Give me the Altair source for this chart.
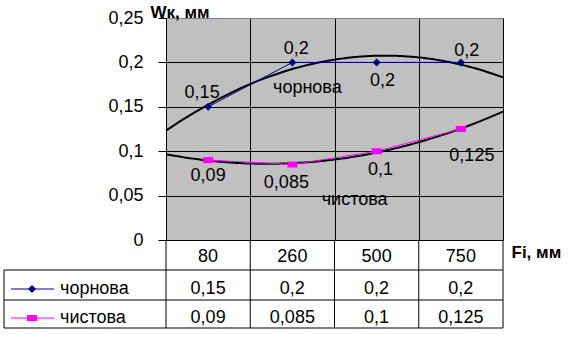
import altair as alt
import pandas as pd

categories = ["80", "260", "500", "750"]
chornova = [0.15, 0.2, 0.2, 0.2]
chystova = [0.09, 0.085, 0.1, 0.125]
series_names = ["чорнова", "чистова"]
series_colors = ["#000080", "#FF00FF"]
y_title = "Wк, мм"
x_title = "Fi, мм"
y_ticks = [0, 0.05, 0.1, 0.15, 0.2, 0.25]
cat_bounds = [-0.5, 0.5, 1.5, 2.5, 3.5]

# manual data-label placement (pixel offsets from each point, Excel style)
label_dx = [[-6, 4, 6, 6], [0, -6, 4, 11]]
label_dy = [[-9, -8, 24, -6], [21, 23, 24, 32]]

FONT = "Arial, 'Liberation Sans', sans-serif"
FS = 18
W, H = 337, 222

def fmt(v):
    return ("%g" % v).replace(".", ",")

rows = []
for s, vals in enumerate([chornova, chystova]):
    for i, v in enumerate(vals):
        rows.append(dict(series=series_names[s], idx=i, cat=categories[i], v=v, label=fmt(v)))
df = pd.DataFrame(rows)

xscale = alt.Scale(domain=[-0.5, 3.5], nice=False, zero=False)
yscale = alt.Scale(domain=[0, 0.25], nice=False, zero=True)

X = alt.X("idx:Q", scale=xscale, axis=alt.Axis(
    values=cat_bounds, grid=True, gridColor="black", gridOpacity=1, labels=False,
    ticks=False, domain=False, title=x_title, titleX=345, titleY=17,
    titleAlign="left", titleBaseline="alphabetic", titleFont=FONT,
    titleFontSize=17, titleFontWeight="bold", titleColor="black"))
Y = alt.Y("v:Q", scale=yscale, axis=alt.Axis(
    values=y_ticks, grid=True,
    gridColor={"condition": {"test": "datum.value >= 0.25", "value": "#808080"}, "value": "black"},
    gridOpacity=1,
    labelExpr="replace(format(datum.value, '~g'), '.', ',')",
    labelFont=FONT, labelFontSize=FS, labelColor="black", labelPadding=15,
    tickSize=8, tickColor="black", domainColor="black",
    title=y_title, titleAngle=0, titleX=-16, titleY=-1, titleAlign="left",
    titleBaseline="alphabetic", titleFont=FONT, titleFontSize=17,
    titleFontWeight="bold", titleColor="black"))

color = alt.Color("series:N", scale=alt.Scale(domain=series_names, range=series_colors), legend=None)
square = "M-1,-0.6L1,-0.6L1,0.6L-1,0.6Z"
shape = alt.Shape("series:N", scale=alt.Scale(domain=series_names, range=["diamond", square]), legend=None)
size = alt.Size("series:N", scale=alt.Scale(domain=series_names, range=[64, 100]), legend=None)

base = alt.Chart(df)

trend = base.transform_regression(
    "idx", "v", method="poly", order=2, extent=[-0.5, 3.5], groupby=["series"]
).mark_line(color="black", strokeWidth=2).encode(x=X, y=Y, detail="series:N")

lines = base.mark_line(strokeWidth=1).encode(x=X, y=Y, color=color)
points = base.mark_point(filled=True, opacity=1).encode(x=X, y=Y, color=color, shape=shape, size=size)

layers = [trend, lines, points]

# data labels, each placed like Excel's labels
for s, name in enumerate(series_names):
    for i in range(len(categories)):
        sub = df[(df.series == name) & (df.idx == i)]
        layers.append(alt.Chart(sub).mark_text(
            font=FONT, fontSize=FS, baseline="alphabetic", align="center", color="black",
            dx=label_dx[s][i], dy=label_dy[s][i]).encode(x=X, y=Y, text="label:N"))

# series name labels anchored to a point of each series
name_anchor = [1, 2]
name_dx = [15, -22]
name_dy = [31, 54]
for s, name in enumerate(series_names):
    sub = df[(df.series == name) & (df.idx == name_anchor[s])]
    layers.append(alt.Chart(sub).mark_text(
        font=FONT, fontSize=FS, baseline="alphabetic", align="center", color="black",
        dx=name_dx[s], dy=name_dy[s]).encode(x=X, y=Y, text="series:N"))

# ---- data table under the plot ----
cat_df = pd.DataFrame({"idx": list(range(len(categories))), "cat": categories})
layers.append(alt.Chart(cat_df).mark_text(font=FONT, fontSize=FS, baseline="alphabetic", color="black").encode(
    x=X, y=alt.value(244), text="cat:N"))

row_base = [276, 305]
for s, name in enumerate(series_names):
    sub = df[df.series == name]
    layers.append(alt.Chart(sub).mark_text(font=FONT, fontSize=FS, baseline="alphabetic", color="black").encode(
        x=X, y=alt.value(row_base[s]), text="label:N"))

bounds_df = pd.DataFrame({"idx": cat_bounds})
layers.append(alt.Chart(bounds_df).mark_rule(color="black", strokeWidth=1).encode(
    x=X, y=alt.value(H), y2=alt.value(310)))

one = pd.DataFrame({"k": [0]})
for yy in [252, 282, 310]:
    layers.append(alt.Chart(one).mark_rule(color="black", strokeWidth=1).encode(
        x=alt.value(-162), x2=alt.value(W), y=alt.value(yy)))
layers.append(alt.Chart(one).mark_rule(color="black", strokeWidth=1).encode(
    x=alt.value(-162), y=alt.value(252), y2=alt.value(310)))

key_y = [271, 300]
for s, name in enumerate(series_names):
    layers.append(alt.Chart(one).mark_rule(color=series_colors[s], strokeWidth=1).encode(
        x=alt.value(-155), x2=alt.value(-112), y=alt.value(key_y[s])))
    layers.append(alt.Chart(one).mark_point(filled=True, opacity=1, color=series_colors[s],
                                            shape=["diamond", square][s], size=[64, 100][s]).encode(
        x=alt.value(-134), y=alt.value(key_y[s])))
    layers.append(alt.Chart(one).mark_text(font=FONT, fontSize=FS, baseline="alphabetic", align="left",
                                           color="black", text=name).encode(
        x=alt.value(-106), y=alt.value(row_base[s])))

chart = alt.layer(*layers).properties(
    width=W, height=H,
    autosize=alt.AutoSizeParams(type="none"),
    padding={"left": 166, "top": 18, "right": 85, "bottom": 112},
    background="white",
).configure_view(fill="#C0C0C0", stroke="#808080")

chart.save("out.html", embed_options={"renderer": "svg", "actions": False})
